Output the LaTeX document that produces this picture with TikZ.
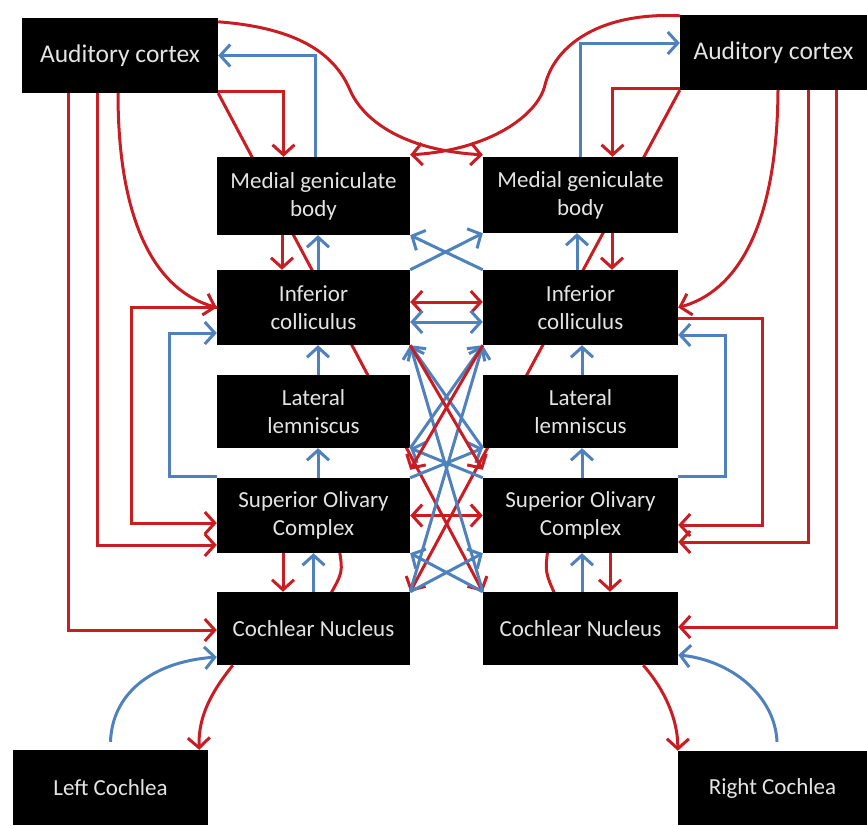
\documentclass[tikz,border=0pt]{standalone}
\usepackage{fontspec}
\setmainfont{Carlito}
\usetikzlibrary{arrows.meta,calc,backgrounds}
\definecolor{myred}{RGB}{200,30,35}
\definecolor{myblue}{RGB}{79,129,189}
\definecolor{txt}{RGB}{228,228,228}
\begin{document}
\begin{tikzpicture}[x=1pt,y=-1pt,
  box/.style={fill=black, text=txt, align=center, inner sep=0pt, font=\fontsize{23}{28}\selectfont},
  rl/.style={draw=myred, line width=3pt},
  bl/.style={draw=myblue, line width=3pt},
  tip/.style={-{Straight Barb[length=10pt,width=22pt]}},
  tips/.style={{Straight Barb[length=10pt,width=22pt]}-{Straight Barb[length=10pt,width=22pt]}},
]
\useasboundingbox (0,0) rectangle (867,825);
% boxes
\node[box, minimum width=196pt, minimum height=75pt, font=\fontsize{25.5}{30}\selectfont] (LAC) at (120,55.5) {Auditory cortex};
\node[box, minimum width=187pt, minimum height=75pt, font=\fontsize{25.5}{30}\selectfont] (RAC) at (773.5,52.5) {Auditory cortex};
\node[box, minimum width=193pt, minimum height=78pt] (LMGB) at (313.5,196) {Medial geniculate\\body};
\node[box, minimum width=195pt, minimum height=76pt] (RMGB) at (580.5,195) {Medial geniculate\\body};
\node[box, minimum width=193pt, minimum height=75pt] (LIC) at (313.5,307.5) {Inferior\\colliculus};
\node[box, minimum width=195pt, minimum height=75pt] (RIC) at (580.5,307.5) {Inferior\\colliculus};
\node[box, minimum width=193pt, minimum height=73pt] (LLL) at (313.5,411.5) {Lateral\\lemniscus};
\node[box, minimum width=195pt, minimum height=73pt] (RLL) at (580.5,411.5) {Lateral\\lemniscus};
\node[box, minimum width=193pt, minimum height=75pt] (LSOC) at (313.5,515.5) {Superior Olivary\\Complex};
\node[box, minimum width=195pt, minimum height=75pt] (RSOC) at (580.5,515.5) {Superior Olivary\\Complex};
\node[box, minimum width=193pt, minimum height=73pt] (LCN) at (313.5,628.5) {Cochlear Nucleus};
\node[box, minimum width=195pt, minimum height=73pt] (RCN) at (580.5,628.5) {Cochlear Nucleus};
\node[box, minimum width=195pt, minimum height=75pt] (LCo) at (110.5,787.5) {Left Cochlea};
\node[box, minimum width=189pt, minimum height=74pt] (RCo) at (772.5,788) {Right Cochlea};

\begin{pgfonlayer}{background}
\draw[rl,tip] (LAC.south east) -- (RCN.north west);
\draw[rl,tip] (RAC.south west) -- (LCN.north east);
\draw[rl] ([xshift=25.5pt,yshift=5pt]LSOC.south) .. controls (343,572) .. ([xshift=15.5pt,yshift=-5pt]LCN.north);
\draw[rl] ([xshift=-32.5pt,yshift=5pt]RSOC.south) .. controls (545,572) .. ([xshift=-24.5pt,yshift=-5pt]RCN.north);
\end{pgfonlayer}

% top curves
\draw[rl,tip] ([yshift=-4pt]LAC.north east) .. controls (300,28) and (335,55) .. (350,90) .. controls (362,118) and (400,150) .. ([yshift=2pt]RMGB.north west);
\draw[rl,tip] ([yshift=-1pt]RAC.north west) .. controls (600,12) and (555,45) .. (545,85) .. controls (538,115) and (490,150) .. ([yshift=2pt]LMGB.north east);
% MGB -> AC
\draw[bl,tip] ([xshift=1.5pt]LMGB.north) |- (LAC.east);
\draw[bl,tip] ([xshift=-0.5pt]RMGB.north) |- ([yshift=9.5pt]RAC.west);
% AC -> MGB
\draw[rl,tip] ([yshift=1.5pt]LAC.south east) -| ([xshift=-30pt]LMGB.north);
\draw[rl,tip] ([yshift=2pt]RAC.south west) -| ([xshift=32pt]RMGB.north);
% AC descending
\draw[rl,tip] ([xshift=-2pt]LAC.south) .. controls (118,230) and (160,292) .. (LIC.west);
\draw[rl,tip] ([xshift=4.5pt]RAC.south) .. controls (777,230) and (735,292) .. (RIC.east);
\draw[rl,tip] ([xshift=-23pt]LAC.south) |- ([yshift=-29.5pt]LSOC.west);
\draw[rl,tip] ([xshift=34.5pt]RAC.south) |- ([yshift=-26.5pt]RSOC.east);
\draw[rl,tip] ([xshift=-52pt]LAC.south) |- ([yshift=-1.5pt]LCN.west);
\draw[rl,tip] ([xshift=62.5pt]RAC.south) |- ([yshift=1.5pt]RCN.east);
% IC -> SOC brackets
\draw[rl,tip] (LIC.west) -- ++(-85,0) |- ([yshift=-7.5pt]LSOC.west);
\draw[rl,tip] ([yshift=-10.5pt]RIC.east) -- ++(84,0) |- ([yshift=-9.5pt]RSOC.east);
% SOC -> IC brackets
\draw[bl,tip] ([yshift=1pt]LSOC.north west) -- ++(-47,0) |- ([yshift=-25.5pt]LIC.west);
\draw[bl,tip] ([yshift=1pt]RSOC.north east) -- ++(47,0) |- ([yshift=-27.5pt]RIC.east);
% MGB - IC
\draw[rl,tip] ([xshift=-31.5pt]LMGB.south) -- ([xshift=-31.5pt]LIC.north);
\draw[bl,tip] ([xshift=4.5pt]LIC.north) -- ([xshift=4.5pt]LMGB.south);
\draw[bl,tip] ([xshift=-3.5pt]RIC.north) -- ([xshift=-3.5pt]RMGB.south);
\draw[rl,tip] ([xshift=31.5pt]RMGB.south) -- ([xshift=31.5pt]RIC.north);
% LL -> IC, SOC -> LL
\draw[bl,tip] ([xshift=4.5pt]LLL.north) -- ([xshift=4.5pt]LIC.south);
\draw[bl,tip] ([xshift=1.5pt]RLL.north) -- ([xshift=1.5pt]RIC.south);
\draw[bl,tip] ([xshift=4.5pt]LSOC.north) -- ([xshift=4.5pt]LLL.south);
\draw[bl,tip] ([xshift=1.5pt]RSOC.north) -- ([xshift=1.5pt]RLL.south);
% SOC - CN
\draw[rl,tip] ([xshift=-30.5pt]LSOC.south) -- ([xshift=-30.5pt]LCN.north);
\draw[bl,tip] (LCN.north) -- (LSOC.south);
\draw[bl,tip] ([xshift=1.5pt]RCN.north) -- ([xshift=1.5pt]RSOC.south);
\draw[rl,tip] ([xshift=29.5pt]RSOC.south) -- ([xshift=29.5pt]RCN.north);
% cochleae
\draw[rl,tip] ([xshift=16pt]LCN.south west) .. controls (213,690) and (198,715) .. ([xshift=-9pt]LCo.north east);
\draw[bl,tip] ([yshift=8pt]LCo.north) .. controls (112,695) and (150,662) .. ([yshift=-28.5pt]LCN.west);
\draw[rl,tip] ([xshift=-35pt]RCN.south east) .. controls (665,690) and (678,720) .. (RCo.north west);
\draw[bl,tip] ([xshift=4.5pt,yshift=9pt]RCo.north) .. controls (775,695) and (730,660) .. ([yshift=-26.5pt]RCN.east);
% centre
\draw[rl,tips] ([yshift=5.5pt]LIC.east) -- ([yshift=5.5pt]RIC.west);
\draw[bl,tips] ([yshift=-14.5pt]LIC.east) -- ([yshift=-14.5pt]RIC.west);
\draw[rl,tips] (LSOC.east) -- (RSOC.west);
\draw[bl,tip] (RIC.north west) -- (LMGB.south east);
\draw[bl,tip] (LIC.north east) -- (RMGB.south west);
\draw[bl,tip] (LCN.north east) -- (RIC.south west);
\draw[bl,tip] (RCN.north west) -- (LIC.south east);
\draw[bl,tip] (LLL.south east) -- (RIC.south west);
\draw[bl,tip] (RLL.south west) -- (LIC.south east);
\draw[bl,tip] (LSOC.north east) -- (RLL.south west);
\draw[bl,tip] (RSOC.north west) -- (LLL.south east);
\draw[bl,tip] (LCN.north east) -- (RSOC.south west);
\draw[bl,tip] (RCN.north west) -- (LSOC.south east);
\draw[rl,tip] (LIC.south east) -- ([yshift=8pt]RSOC.north west);
\draw[rl,tip] (RIC.south west) -- ([yshift=8pt]LSOC.north east);
\end{tikzpicture}
\end{document}
